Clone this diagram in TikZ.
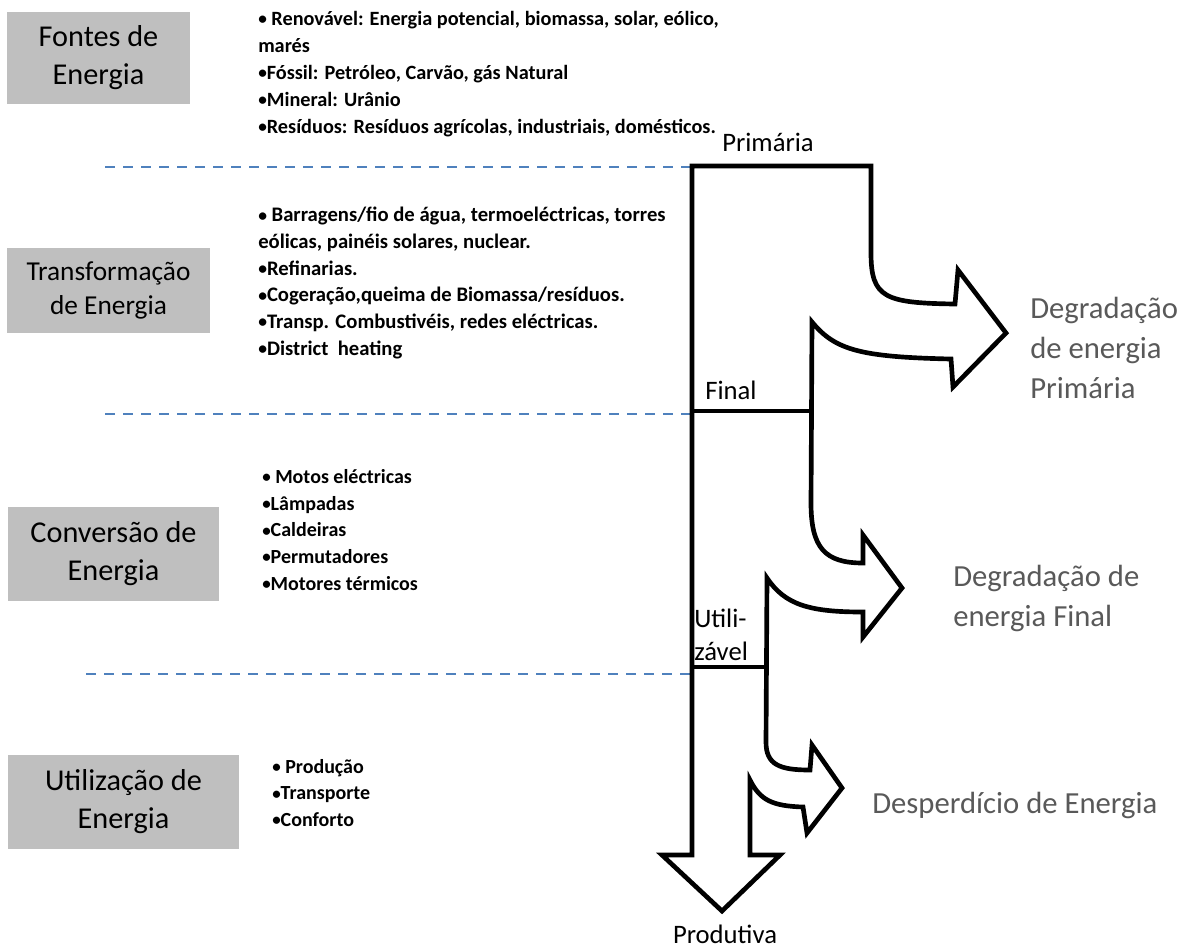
\documentclass[tikz,border=0pt]{standalone}
\usepackage{fontspec}
\setmainfont{Carlito}
\usepackage{tikz}
\usetikzlibrary{positioning}
\definecolor{boxgray}{HTML}{BFBFBF}
\definecolor{lossgray}{HTML}{595959}
\definecolor{sepblue}{HTML}{4F81BD}
\newcommand{\bul}{\raisebox{0.08ex}{\scalebox{0.85}{•}}}

\begin{document}
\begin{tikzpicture}[x=0.75pt,y=-0.75pt,
  stage/.style={align=center, inner sep=0pt, font=\fontsize{22.7}{28.5}\selectfont},
  items/.style={anchor=west, align=left, inner sep=0pt, font=\bfseries\fontsize{15}{20}\selectfont},
  loss/.style={anchor=west, align=left, inner sep=0pt, text=lossgray, font=\fontsize{23}{30}\selectfont},
  level/.style={inner sep=0pt, font=\fontsize{20}{25}\selectfont},
  sep/.style={sepblue, line width=1.5pt, dash pattern=on 7.5pt off 6pt},
  flow/.style={line width=3.5pt, line join=miter}]
\useasboundingbox[fill=white] (0,0) rectangle (1188,951);

% stages
\fill[boxgray] (7,12) rectangle (190,104);
\fill[boxgray] (7,248) rectangle (210,333);
\fill[boxgray] (8,507) rectangle (219,601);
\fill[boxgray] (8,755) rectangle (239,849);
\node[stage] (fontes) at (98.5,58) {Fontes de\\Energia};
\node[stage, font=\fontsize{20.5}{25}\selectfont] (transf) at (108.5,290.5) {Transformação\\de Energia};
\node[stage] (conv) at (113.5,554) {Conversão de\\Energia};
\node[stage] (util) at (123.5,802) {Utilização de\\Energia};

% examples
\node[items, font=\bfseries\fontsize{15.2}{20.3}\selectfont] (ex1) at (258,74) {\bul{} Renovável: Energia potencial, biomassa, solar, eólico,\\marés\\\bul Fóssil: Petróleo, Carvão, gás Natural\\\bul Mineral: Urânio\\\bul Resíduos: Resíduos agrícolas, industriais, domésticos.};
\node[items, font=\bfseries\fontsize{15.5}{20}\selectfont] (ex2) at (258,283) {\bul{} Barragens/fio de água, termoeléctricas, torres\\eólicas, painéis solares, nuclear.\\\bul Refinarias.\\\bul Cogeração,queima de Biomassa/resíduos.\\\bul Transp. Combustivéis, redes eléctricas.\\\bul District\ \ heating};
\node[items] (ex3) at (262,530) {\bul{} Motos eléctricas\\\bul Lâmpadas\\\bul Caldeiras\\\bul Permutadores\\\bul Motores térmicos};
\node[items] (ex4) at (272,793) {\bul{} Produção\\\bul Transporte\\\bul Conforto};

% separators
\draw[sep] (105,167) -- (690,167);
\draw[sep] (105,414) -- (690,414);
\draw[sep] (86,674) -- (690,674);

% energy flow
\draw[flow] (692,166) -- (871,166) -- (871,253)
  .. controls (871,298) and (885,303) .. (955,304)
  -- (958,270) -- (1006,333) -- (953,387) -- (951,359)
  .. controls (860,357) and (835,350) .. (812,322)
  -- (811,503)
  .. controls (811,548) and (825,563) .. (863,563)
  -- (863,535) -- (902,588) -- (863,637) -- (863,612)
  .. controls (810,612) and (785,605) .. (767,578)
  -- (766,742)
  .. controls (766,765) and (780,770) .. (810,770)
  -- (812,745) -- (842,788) -- (807,833) -- (803,807)
  .. controls (772,806) and (760,800) .. (750,780)
  -- (750,855) -- (780,855) -- (722,911) -- (662,855) -- (692,855) -- cycle;
\draw[line width=2.5pt] (692,411) -- (811,411);
\draw[line width=2.5pt] (692,667) -- (766,667);

% levels
\node[level] (prim) at (768,142) {Primária};
\node[level] (final) at (731,390) {Final};
\node[level, anchor=west, align=left] (utiliz) at (694,635) {Utili-\\zável};
\node[level] (prod) at (725,934) {Produtiva};

% losses
\node[loss] (deg1) at (1030,348) {Degradação\\de energia\\Primária};
\node[loss] (deg2) at (953,598) {Degradação de\\energia Final};
\node[loss] (desp) at (872,805) {Desperdício de Energia};
\end{tikzpicture}
\end{document}
